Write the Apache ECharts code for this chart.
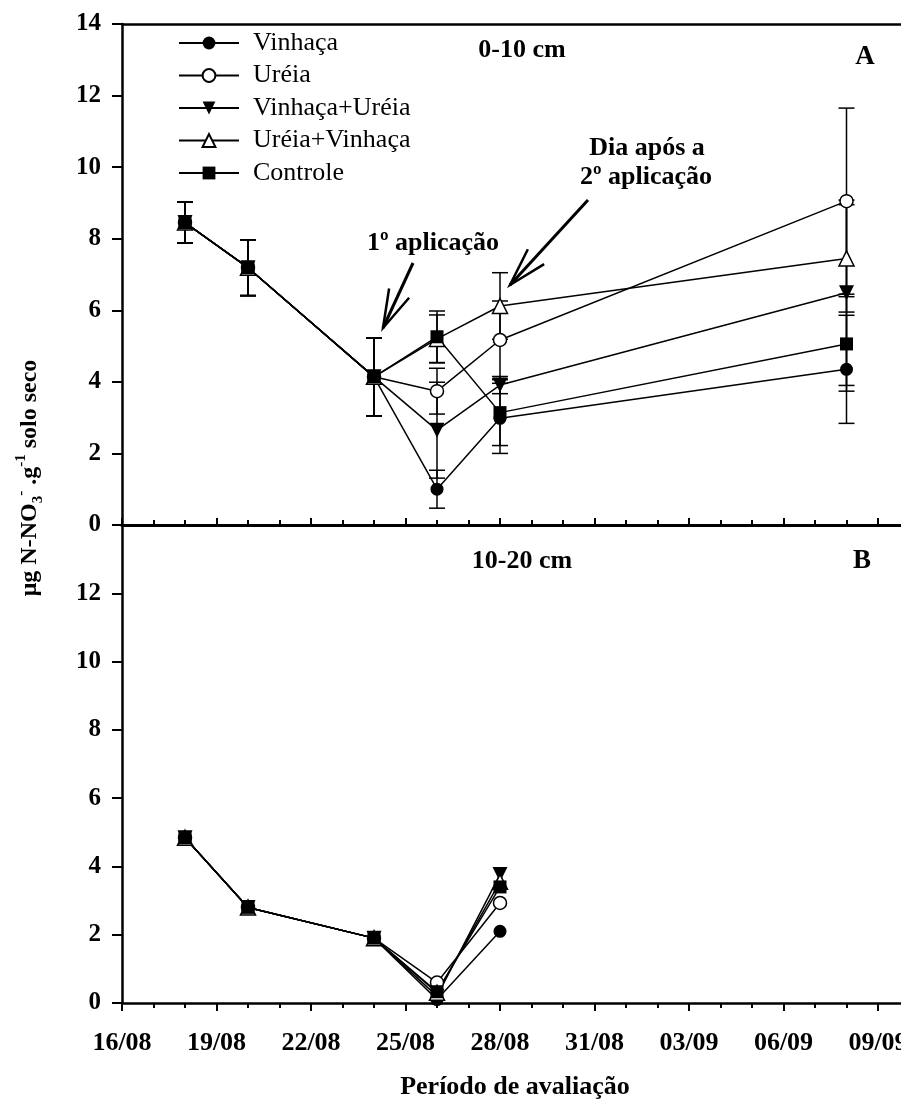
<!DOCTYPE html>
<html>
<head>
<meta charset="utf-8">
<title>N-NO3 no solo</title>
<script src="https://cdn.jsdelivr.net/npm/echarts@6.0.0/dist/echarts.min.js"></script>
<style>
html, body { margin: 0; padding: 0; background: #fff; }
#main { width: 901px; height: 1101px; }
</style>
</head>
<body>
<div id="main"></div>
<script>
// datas de coleta e rótulos do eixo x
var dates = ['18/08', '20/08', '24/08', '26/08', '28/08', '08/09'];
var xTickLabels = ['16/08', '19/08', '22/08', '25/08', '28/08', '31/08', '03/09', '06/09', '09/09'];
var names = ['Vinhaça', 'Uréia', 'Vinhaça+Uréia', 'Uréia+Vinhaça', 'Controle'];

// A: 0-10 cm (média e desvio)
var vinhacaA   = [8.45, 7.19, 4.14, 1.00, 2.98, 4.35];
var ureiaA     = [8.45, 7.19, 4.14, 3.74, 5.17, 9.05];
var vinUreiaA  = [8.45, 7.19, 4.14, 2.65, 3.91, 6.49];
var ureiaVinA  = [8.45, 7.19, 4.14, 5.20, 6.12, 7.45];
var controleA  = [8.45, 7.19, 4.14, 5.26, 3.14, 5.06];
var vinhacaErr  = [0.57, 0.78, 1.09, 0.53, 0.98, 1.51];
var ureiaErr    = [0.57, 0.78, 1.09, 0.64, 1.09, 2.60];
var vinUreiaErr = [0.57, 0.78, 1.09, 1.34, 0.24, 2.59];
var ureiaVinErr = [0.57, 0.78, 1.09, 0.67, 0.93, 1.50];
var controleErr = [0.57, 0.78, 1.09, 0.72, 0.92, 1.32];

// B: 10-20 cm
var vinhacaB   = [4.84, 2.80, 1.90, 0.10, 2.10];
var ureiaB     = [4.84, 2.80, 1.90, 0.60, 2.93];
var vinUreiaB  = [4.84, 2.80, 1.90, 0.20, 3.76];
var ureiaVinB  = [4.84, 2.80, 1.90, 0.30, 3.55];
var controleB  = [4.84, 2.80, 1.90, 0.33, 3.40];

var FONT = 'Liberation Serif';
var baseDay = Date.UTC(2000, 7, 16);

function dayIndex(s) {
	var p = s.split('/');
	return (Date.UTC(2000, +p[1] - 1, +p[0]) - baseDay) / 86400000;
}
var days = dates.map(dayIndex);

function pts(vals) {
	return vals.map(function(v, i) { return [days[i], v]; });
}
function errPts(vals, errs) {
	return vals.map(function(v, i) { return [days[i], v, errs[i]]; });
}

var treatments = [
	{ name: names[0], symbol: 'circle',   fill: '#000', rot: 0,   size: 13, a: vinhacaA,  e: vinhacaErr,  b: vinhacaB },
	{ name: names[1], symbol: 'circle',   fill: '#fff', rot: 0,   size: 13, a: ureiaA,    e: ureiaErr,    b: ureiaB },
	{ name: names[2], symbol: 'triangle', fill: '#000', rot: 180, size: 15, a: vinUreiaA, e: vinUreiaErr, b: vinUreiaB },
	{ name: names[3], symbol: 'triangle', fill: '#fff', rot: 0,   size: 15, a: ureiaVinA, e: ureiaVinErr, b: ureiaVinB },
	{ name: names[4], symbol: 'rect',     fill: '#000', rot: 0,   size: 13, a: controleA, e: controleErr, b: controleB }
];

function errorBar(params, api) {
	var x = api.value(0), y = api.value(1), e = api.value(2);
	var hi = api.coord([x, y + e]), lo = api.coord([x, y - e]);
	var w = 8;
	var st = { stroke: '#000', lineWidth: 1.5 };
	return {
		type: 'group',
		children: [
			{ type: 'line', shape: { x1: hi[0], y1: hi[1], x2: lo[0], y2: lo[1] }, style: st },
			{ type: 'line', shape: { x1: hi[0] - w, y1: hi[1], x2: hi[0] + w, y2: hi[1] }, style: st },
			{ type: 'line', shape: { x1: lo[0] - w, y1: lo[1], x2: lo[0] + w, y2: lo[1] }, style: st }
		]
	};
}

function lineSeries(t, xi, yi, vals) {
	return {
		name: t.name,
		type: 'line',
		xAxisIndex: xi,
		yAxisIndex: yi,
		data: pts(vals),
		symbol: t.symbol,
		symbolSize: t.size,
		symbolRotate: t.rot,
		showSymbol: true,
		z: 3,
		lineStyle: { color: '#000', width: 1.5 },
		itemStyle: { color: t.fill, borderColor: '#000', borderWidth: t.fill == '#fff' ? 1.5 : 0 },
		emphasis: { disabled: true }
	};
}

var series = [];
treatments.forEach(function(t) {
	series.push({
		type: 'custom',
		xAxisIndex: 0,
		yAxisIndex: 0,
		z: 1,
		silent: true,
		encode: { x: 0, y: 1 },
		renderItem: errorBar,
		data: errPts(t.a, t.e)
	});
});
treatments.forEach(function(t) { series.push(lineSeries(t, 0, 0, t.a)); });
treatments.forEach(function(t) { series.push(lineSeries(t, 2, 1, t.b)); });

function xLabel(v) {
	var k = Math.round(v / 3);
	if (Math.abs(v - k * 3) > 1e-6 || k >= xTickLabels.length) return '';
	return xTickLabels[k];
}

function yAxisOpt(grid, hideTop) {
	return {
		type: 'value', gridIndex: grid, min: 0, max: 14, interval: 2,
		axisLine: { show: true, onZero: false, lineStyle: { color: '#000', width: 2.5 } },
		axisTick: { show: true, inside: false, length: 10, lineStyle: { color: '#000', width: 2 } },
		axisLabel: {
			margin: 21, color: '#000', fontFamily: FONT, fontWeight: 'bold', fontSize: 25,
			formatter: function(v) { return (hideTop && v === 14) ? '' : String(v); }
		},
		splitLine: { show: false }
	};
}

function txt(x, y, s, size) {
	return {
		type: 'text', x: x, y: y, silent: true,
		style: {
			text: s, fill: '#000', fontFamily: FONT, fontWeight: 'bold', fontSize: size,
			align: 'center', verticalAlign: 'middle', textAlign: 'center', textVerticalAlign: 'middle'
		}
	};
}

function arrow(x1, y1, x2, y2) {
	var ang = Math.atan2(y1 - y2, x1 - x2);
	var L = 40, da = 16 * Math.PI / 180;
	var h1 = [x2 + L * Math.cos(ang + da), y2 + L * Math.sin(ang + da)];
	var h2 = [x2 + L * Math.cos(ang - da), y2 + L * Math.sin(ang - da)];
	return [
		{ type: 'line', silent: true, shape: { x1: x1, y1: y1, x2: x2, y2: y2 }, style: { stroke: '#000', lineWidth: 3 } },
		{ type: 'polyline', silent: true, shape: { points: [h1, [x2, y2], h2] }, style: { stroke: '#000', lineWidth: 2.5, fill: null } }
	];
}

var graphics = [
	txt(522, 50, '0-10 cm', 26),
	txt(865, 57, 'A', 27),
	txt(522, 561, '10-20 cm', 26),
	txt(862, 561, 'B', 27),
	txt(433, 243, '1º aplicação', 26),
	txt(647, 148, 'Dia após a', 26),
	txt(646, 177, '2º aplicação', 26),
	txt(515, 1087, 'Período de avaliação', 26),
	{
		type: 'text', x: 30, y: 478, rotation: Math.PI / 2, silent: true,
		style: {
			text: '{m|μg N-NO}{sub|3}{sup|-}{m| .g}{sup|-1}{m| solo seco}',
			fill: '#000',
			align: 'center', verticalAlign: 'middle', textAlign: 'center', textVerticalAlign: 'middle',
			rich: {
				m:   { fontFamily: FONT, fontWeight: 'bold', fontSize: 24, lineHeight: 32, fill: '#000' },
				sub: { fontFamily: FONT, fontWeight: 'bold', fontSize: 15, lineHeight: 18, verticalAlign: 'bottom', fill: '#000' },
				sup: { fontFamily: FONT, fontWeight: 'bold', fontSize: 15, lineHeight: 18, verticalAlign: 'top', fill: '#000' }
			}
		}
	}
].concat(arrow(413, 263, 383, 328)).concat(arrow(588, 200, 510, 285));

var myChart = echarts.init(document.getElementById('main'), null, { renderer: 'canvas' });
var option = {
	animation: false,
	backgroundColor: '#fff',
	grid: [
		{ left: 122, top: 24, width: 850.5, height: 501, containLabel: false, outerBoundsMode: 'none' },
		{ left: 122, top: 525, width: 850.5, height: 478, containLabel: false, outerBoundsMode: 'none' }
	],
	legend: {
		data: names,
		orient: 'vertical',
		left: 173,
		top: 25,
		itemWidth: 60,
		itemHeight: 16,
		itemGap: 6.5,
		selectedMode: false,
		textStyle: { fontFamily: FONT, fontSize: 26, lineHeight: 24, color: '#000', padding: [0, 0, 0, 9] }
	},
	xAxis: [
		{
			type: 'value', gridIndex: 0, position: 'bottom', min: 0, max: 27, interval: 3,
			axisLine: { onZero: false, lineStyle: { color: '#000', width: 3 } },
			axisTick: { show: true, inside: true, length: 7, lineStyle: { color: '#000', width: 2 } },
			minorTick: { show: true, splitNumber: 3, length: 5, lineStyle: { color: '#000', width: 2 } },
			axisLabel: { show: false },
			splitLine: { show: false }
		},
		{
			type: 'value', gridIndex: 0, position: 'top', min: 0, max: 27,
			axisLine: { onZero: false, lineStyle: { color: '#000', width: 2.5 } },
			axisTick: { show: false },
			axisLabel: { show: false },
			splitLine: { show: false }
		},
		{
			type: 'value', gridIndex: 1, position: 'bottom', min: 0, max: 27, interval: 3,
			axisLine: { onZero: false, lineStyle: { color: '#000', width: 2.5 } },
			axisTick: { show: true, inside: false, length: 8, lineStyle: { color: '#000', width: 2 } },
			minorTick: { show: true, splitNumber: 3, length: 5, lineStyle: { color: '#000', width: 2 } },
			axisLabel: { margin: 27, color: '#000', fontFamily: FONT, fontWeight: 'bold', fontSize: 26, formatter: xLabel },
			splitLine: { show: false }
		}
	],
	yAxis: [yAxisOpt(0, false), yAxisOpt(1, true)],
	graphic: { elements: graphics },
	series: series
};
myChart.setOption(option);
window.onresize = myChart.resize;
</script>
</body>
</html>
